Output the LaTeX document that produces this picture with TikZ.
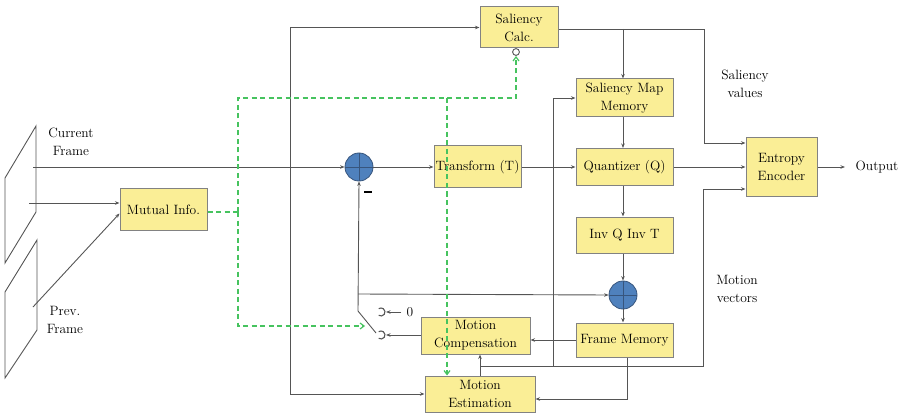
\documentclass[tikz,border=0pt]{standalone}
\usetikzlibrary{arrows.meta,calc}
\definecolor{boxfill}{RGB}{250,238,150}
\definecolor{boxline}{RGB}{130,130,130}
\definecolor{wire}{RGB}{85,85,85}
\definecolor{sumblue}{RGB}{79,129,189}
\definecolor{sumline}{RGB}{55,85,125}
\definecolor{ctrl}{RGB}{70,195,95}

\tikzset{
  blk/.style={draw=boxline, fill=boxfill, line width=1pt, inner sep=0pt,
    align=center, font=\fontsize{13.5}{18}\selectfont},
  sumnode/.style={circle, draw=sumline, fill=sumblue, minimum size=28pt,
    inner sep=0pt, line width=0.8pt},
  wirel/.style={draw=wire, line width=0.9pt},
  arr/.style={wirel, -{Stealth[length=4.5pt,width=3.5pt]}},
  ctl/.style={draw=ctrl, line width=1.2pt, dash pattern=on 5pt off 3.5pt,
    -{Straight Barb[length=4pt,width=6pt]}},
  ctlplain/.style={draw=ctrl, line width=1.2pt, dash pattern=on 5pt off 3.5pt},
  lbl/.style={align=center, font=\fontsize{13.5}{18}\selectfont, inner sep=0pt},
}

\begin{document}
\begin{tikzpicture}[x=1pt,y=-1pt]
\useasboundingbox (0,0) rectangle (904,414);

% input frames
\draw[wirel] (5,178) -- (36,126) -- (36,212) -- (5,263) -- cycle;
\draw[wirel] (5,292) -- (37,240) -- (37,330) -- (5,378) -- cycle;
\node[lbl] (curlbl) at (71,142) {Current\\Frame};
\node[lbl] (prevlbl) at (65,320) {Prev.\\Frame};
\coordinate (cf) at (33,167);
\coordinate (cf2) at (29,203);
\coordinate (pf) at (33,307);

% blocks
\node[blk, minimum width=87pt, minimum height=41pt] (mi) at (163.5,209.5) {Mutual Info.};
\node[blk, minimum width=78pt, minimum height=41pt] (sc) at (519,27.5) {Saliency\\Calc.};
\node[blk, minimum width=87pt, minimum height=42pt] (tr) at (477.5,167) {Transform (T)};
\node[blk, minimum width=97pt, minimum height=38pt] (smm) at (624.5,98) {Saliency Map\\Memory};
\node[blk, minimum width=97pt, minimum height=37pt] (qz) at (624.5,167) {Quantizer (Q)};
\node[blk, minimum width=97pt, minimum height=36pt] (iq) at (624.5,235) {Inv Q Inv T};
\node[blk, minimum width=97pt, minimum height=34pt] (fm) at (624.5,340) {Frame Memory};
\node[blk, minimum width=71pt, minimum height=59pt] (ee) at (781.5,167) {Entropy\\Encoder};
\node[blk, minimum width=109pt, minimum height=37pt] (mc) at (475.5,335.5) {Motion\\Compensation};
\node[blk, minimum width=110pt, minimum height=36pt] (me) at (480,394) {Motion\\Estimation};

% summing junctions
\node[sumnode] (s1) at (359,167) {};
\node[sumnode] (s2) at (623,295) {};
\foreach \s in {s1,s2}{
  \draw[draw=sumline, line width=0.8pt] (\s.north) -- (\s.south);
  \draw[draw=sumline, line width=0.8pt] (\s.west) -- (\s.east);
}
\draw[line width=2pt] (364,192) -- (372,192);
\coordinate (minus) at (368,192);

% labels
\node[lbl] (outlbl) at (877,167) {Output};
\node[lbl] (svlbl) at (745,84) {Saliency\\values};
\node[lbl] (mvlbl) at (737,289) {Motion\\vectors};
\node[lbl] (zero) at (410,312) {0};

% current frame path
\coordinate (j1) at (290,167);
\draw[arr] (cf) -- (s1.west);
\draw[arr] (j1) |- (sc.west);
\draw[arr] (j1) |- (me.west);
\draw[arr] (cf2) -- (mi.west |- cf2);
\draw[arr] (pf) -- ($(mi.west)+(0,4)$);

% forward path
\draw[arr] (s1.east) -- (tr.west);
\draw[arr] (tr.east) -- (qz.west);
\draw[arr] (qz.east) -- (ee.west);
\draw[arr] (ee.east) -- (845,167) coordinate (outend);

% saliency values
\coordinate (j2) at (623,29);
\coordinate (sv) at (704,143);
\draw[wirel] (sc.east |- j2) -- (704,29) -- (sv);
\draw[arr] (sv) -- (ee.west |- sv);
\draw[arr] (j2) -- (smm.north -| j2);
\draw[arr] (smm.south -| j2) -- (qz.north -| j2);

% reconstruction loop
\draw[arr] (qz.south -| s2) -- (iq.north -| s2);
\draw[arr] (iq.south -| s2) -- (s2.north);
\draw[arr] (s2.south) -- (fm.north -| s2);
\draw[arr] (fm.west) -- (mc.east |- fm.west);
\draw[arr] ($(fm.south)+(3,0)$) |- ($(me.east)+(0,5)$);
\draw[arr] (me.north) -- (mc.south -| me.north);

% motion vectors
\coordinate (j3) at (480,366);
\coordinate (j4) at (553,366);
\coordinate (mv) at (703,189);
\draw[wirel] (j3) -- (703,366) -- (mv);
\draw[arr] (mv) -- (ee.west |- mv);
\draw[arr] (j4) |- (smm.west);

% prediction switch
\coordinate (sw) at (358,311);
\coordinate (swe) at (376,333);
\coordinate (j5) at (358,294);
\coordinate (k0) at (381,312);
\coordinate (k1) at (381,335);
\draw[wirel] (swe) -- (sw);
\draw[arr] (sw) -- (s1.south);
\draw[arr] (j5) -- (s2.west);
\foreach \k in {k0,k1}
  \draw[draw=wire, line width=1.1pt] (\k) ++(125:4) arc[start angle=125, end angle=-125, radius=4];
\draw[arr] (zero.west) ++(-5,0) -- (386,312);
\draw[arr] (mc.west |- k1) -- (386,335);

% mutual information control (dashed)
\coordinate (g1) at (238,212);
\coordinate (g2) at (238,98);
\coordinate (g3) at (447,98);
\coordinate (g4) at (516,98);
\draw[draw=wire, line width=0.9pt, fill=white] (516,52) circle[radius=3.4] coordinate (scin);
\draw[ctlplain] (mi.east |- g1) -- (g1);
\draw[ctl] (g1) |- (365,326);
\draw[ctl] (g1) -- (g2) -- (g4) -- (516,56);
\draw[ctl] (g3) -- (me.north -| g3);
\end{tikzpicture}
\end{document}
